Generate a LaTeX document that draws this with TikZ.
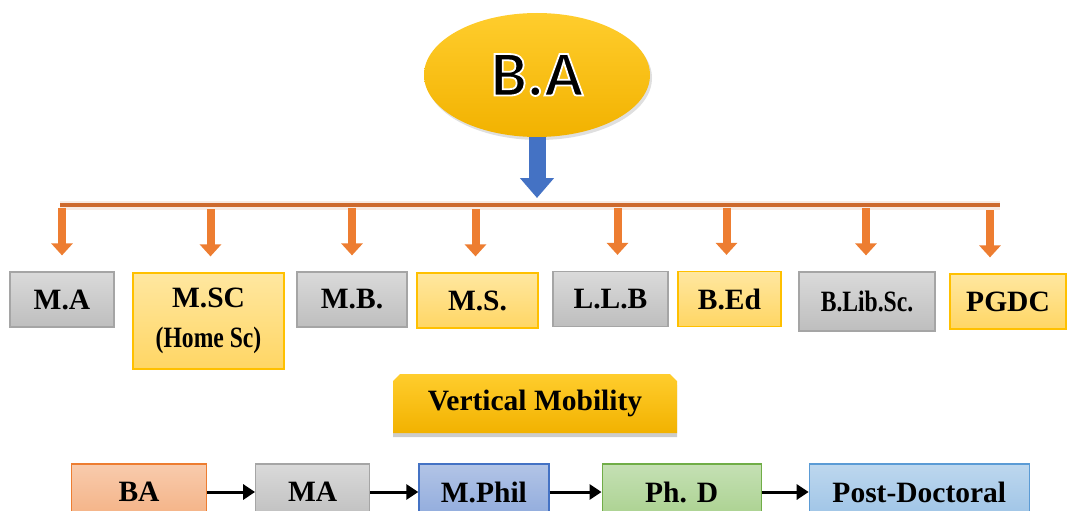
\documentclass[tikz,border=0pt]{standalone}
\usepackage{fontspec}
\setmainfont{Liberation Serif}
\newfontfamily\narrowfont[FakeStretch=0.8]{Liberation Serif}
\newfontfamily\headfont{Carlito}
\usetikzlibrary{positioning, shapes.geometric, shapes.misc, shadows, arrows.meta}

\definecolor{goldtop}{RGB}{255,205,45}
\definecolor{goldbot}{RGB}{242,178,0}
\definecolor{trunkblue}{RGB}{68,114,196}
\definecolor{barorange}{RGB}{205,105,45}
\definecolor{branchorange}{RGB}{237,125,49}
\definecolor{greytop}{RGB}{218,218,218}
\definecolor{greybot}{RGB}{190,190,190}
\definecolor{greyline}{RGB}{165,165,165}
\definecolor{ylwtop}{RGB}{255,231,160}
\definecolor{ylwbot}{RGB}{255,214,100}
\definecolor{ylwline}{RGB}{255,192,0}

% black letters with a white rim (text render mode 2)
\newcommand\rimtext[1]{\special{pdf:literal direct 1 1 1 RG 1.8 w 2 Tr}#1\special{pdf:literal direct 0 Tr 0 G 0.4 w}}

\begin{document}
\begin{tikzpicture}[
    x=1pt, y=-1pt,
    degfont/.style={font=\fontsize{29.5}{40}\selectfont\bfseries},
    course/.style={draw, line width=1.2pt, minimum height=55pt, inner sep=2pt, align=center, degfont},
    greybox/.style={course, draw=greyline, top color=greytop, bottom color=greybot},
    ylwbox/.style={course, draw=ylwline, top color=ylwtop, bottom color=ylwbot},
    stage/.style={course, minimum height=56pt},
    bubble/.style={ellipse, minimum width=226pt, minimum height=124pt, top color=goldtop, bottom color=goldbot,
        drop shadow={opacity=0.25, shadow xshift=2pt, shadow yshift=-3pt}},
    banner/.style={chamfered rectangle, chamfered rectangle corners={north west, north east}, chamfered rectangle xsep=4pt,
        minimum width=284pt, minimum height=59pt, top color=goldtop, bottom color=goldbot, degfont,
        drop shadow={opacity=0.4, shadow xshift=0pt, shadow yshift=-4pt}},
    trunk/.style={draw=trunkblue, line width=17pt, -{Triangle[width=33pt, length=20pt]}},
    branch/.style={draw=branchorange, line width=8pt, -{Triangle[width=21pt, length=12pt]}},
    link/.style={draw=black, line width=3pt, -{Triangle[width=15pt, length=12pt]}}
]
    \useasboundingbox (0,0) rectangle (1068,511);

    % Top ellipse
    \node[bubble] (ba) at (537,75) {\headfont\bfseries\fontsize{64}{64}\selectfont\rimtext{B.A}};

    % Blue arrow down to the bar
    \coordinate (hub) at (537,198);
    \draw[trunk] (ba.south) -- (hub);

    % Orange bar
    \coordinate (bar-l) at (60,205);
    \coordinate (bar-r) at (1000,205);
    \draw[barorange, line width=4.5pt, preaction={draw=barorange!40, line width=9pt, opacity=0.35}] (bar-l) -- (bar-r);

    % Degrees after B.A
    \node[greybox, minimum width=104pt] (ma) at (62,299.5) {M.A};
    \node[ylwbox, minimum width=151pt, minimum height=96pt] (msc) at (208.5,321) {M.SC\\{\narrowfont (Home Sc)}};
    \node[greybox, minimum width=110pt] (mb) at (352,299.5) {M.B.};
    \node[ylwbox, minimum width=121pt] (ms) at (477.5,300.5) {M.S.};
    \node[greybox, minimum width=115pt] (llb) at (610.5,299) {L.L.B};
    \node[ylwbox, minimum width=103pt] (bed) at (729.5,299) {B.Ed};
    \node[greybox, minimum width=136pt, minimum height=59pt] (blib) at (867,301.5) {\narrowfont B.Lib.Sc.};
    \node[ylwbox, minimum width=116pt] (pgdc) at (1008,301.5) {PGDC};

    % Orange arrows from the bar
    \foreach \deg/\dx in {ma/0, msc/2, mb/0, ms/-2, llb/7, bed/-3, blib/-1, pgdc/-18}
        \draw[branch] ([xshift=\dx pt, yshift=63pt]\deg.north) -- ([xshift=\dx pt, yshift=16pt]\deg.north);

    % Vertical Mobility
    \node[banner] (vm) at (535,403.5) {Vertical Mobility};

    % Chain of stages
    \node[stage, minimum width=135pt, draw={rgb,255:red,237;green,125;blue,49}, top color={rgb,255:red,248;green,203;blue,173}, bottom color={rgb,255:red,244;green,177;blue,131}] (s1) at (139,492) {BA};
    \node[stage, minimum width=114pt, draw=greyline, top color=greytop, bottom color=greybot, right=48pt of s1] (s2) {MA};
    \node[stage, minimum width=130pt, draw={rgb,255:red,68;green,114;blue,196}, top color={rgb,255:red,178;green,196;blue,230}, bottom color={rgb,255:red,143;green,170;blue,220}, right=48pt of s2] (s3) {M.Phil};
    \node[stage, minimum width=159pt, draw={rgb,255:red,112;green,173;blue,71}, top color={rgb,255:red,197;green,224;blue,180}, bottom color={rgb,255:red,169;green,209;blue,142}, right=52pt of s3] (s4) {Ph. D};
    \node[stage, minimum width=220pt, draw={rgb,255:red,91;green,155;blue,213}, top color={rgb,255:red,189;green,215;blue,238}, bottom color={rgb,255:red,157;green,195;blue,230}, right=47pt of s4] (s5) {Post-Doctoral};

    \draw[link] (s1) -- (s2);
    \draw[link] (s2) -- (s3);
    \draw[link] (s3) -- (s4);
    \draw[link] (s4) -- (s5);

\end{tikzpicture}
\end{document}
